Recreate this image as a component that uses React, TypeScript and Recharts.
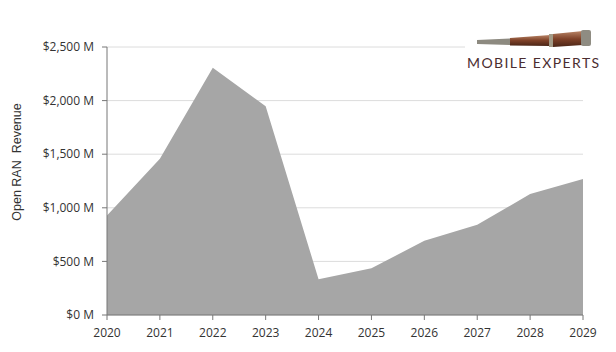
import { AreaChart, Area, XAxis, YAxis, CartesianGrid } from "recharts";

const years = ["2020", "2021", "2022", "2023", "2024", "2025", "2026", "2027", "2028", "2029"];
const revenue = [928, 1458, 2306, 1947, 333, 436, 692, 841, 1128, 1268];
const yTicks = [0, 500, 1000, 1500, 2000, 2500];

const data = years.map((year, i) => ({ year, revenue: revenue[i] }));

const tickStyle = { fill: "#333", fontSize: 12, fontFamily: "'Open Sans', sans-serif" };

function Logo() {
  return (
    <div
      style={{
        position: "absolute",
        left: 465,
        top: 24,
        width: 145,
        height: 50,
        background: "#fff",
      }}
    >
      <svg width={145} height={26} style={{ position: "absolute", left: 0, top: 4 }}>
        <defs>
          <linearGradient id="tube" x1="0" y1="0" x2="0" y2="1">
            <stop offset="0" stopColor="#b88466" />
            <stop offset="0.5" stopColor="#7e4128" />
            <stop offset="1" stopColor="#4a2516" />
          </linearGradient>
        </defs>
        <polygon points="12,12 45,10.5 45,17 12,16" fill="#8d8a80" />
        <polygon points="45,10 85,7 85,18 45,17.5" fill="url(#tube)" />
        <rect x={84} y={6} width={4} height={13} fill="#a29a86" />
        <polygon points="88,6 118,3 118,17 88,19" fill="url(#tube)" />
        <rect x={116} y={2} width={10} height={16} rx={2} fill="#8f8c82" />
      </svg>
      <div
        style={{
          position: "absolute",
          left: 2,
          top: 30,
          fontFamily: "Lato, sans-serif",
          fontSize: 14,
          letterSpacing: 1.4,
          color: "#4b2d30",
          whiteSpace: "nowrap",
        }}
      >
        MOBILE EXPERTS
      </div>
    </div>
  );
}

export default function App() {
  return (
    <div style={{ position: "absolute", left: 0, top: 0, width: 616, height: 352, background: "#fff" }}>
      <AreaChart width={616} height={352} data={data} margin={{ top: 47, right: 33, bottom: 7, left: 27 }}>
        <CartesianGrid horizontal vertical={false} stroke="#dcdcdc" />
        <XAxis
          dataKey="year"
          height={30}
          stroke="#777"
          tickSize={5}
          tickMargin={8}
          tick={tickStyle}
          interval={0}
        />
        <YAxis
          width={80}
          domain={[0, 2500]}
          ticks={yTicks}
          stroke="#777"
          tickSize={5}
          tickMargin={8}
          tick={tickStyle}
          tickFormatter={(v: number) => `$${v.toLocaleString("en-US")} M`}
        />
        <Area
          type="linear"
          dataKey="revenue"
          stroke="none"
          fill="#a6a6a6"
          fillOpacity={1}
          isAnimationActive={false}
          dot={false}
          activeDot={false}
        />
      </AreaChart>
      <div
        style={{
          position: "absolute",
          left: 17,
          top: 162,
          transform: "translate(-50%, -50%) rotate(-90deg)",
          fontFamily: "'Liberation Sans', Arial, sans-serif",
          fontSize: 12.5,
          color: "#333",
          whiteSpace: "pre",
        }}
      >
        {"Open RAN  Revenue"}
      </div>
      <Logo />
    </div>
  );
}
